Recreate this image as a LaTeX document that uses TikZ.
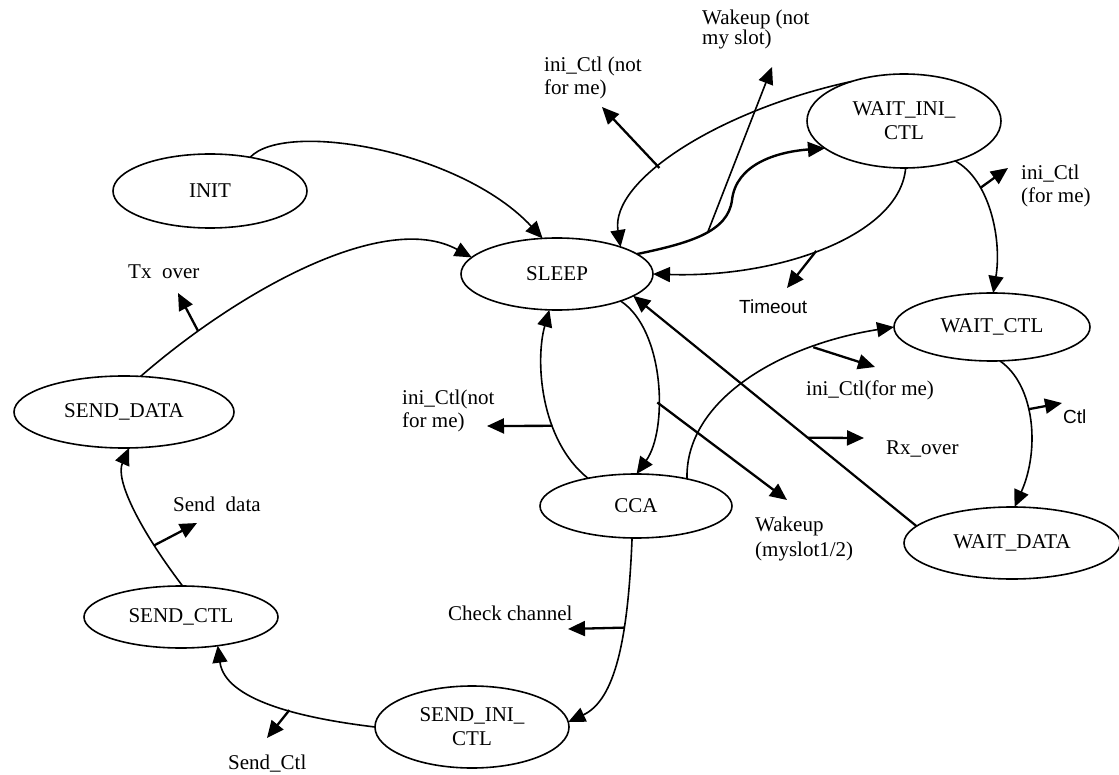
\documentclass[tikz,border=0pt]{standalone}
\usepackage{fontspec}
\setmainfont{Liberation Serif}
\newfontfamily\arialfont{Liberation Sans}
\usetikzlibrary{shapes.geometric,arrows.meta,calc}
\newcommand\tightlines{\lineskiplimit=-20pt\relax}

\begin{document}
\begin{tikzpicture}[x=1pt,y=-1pt,
  state/.style={ellipse,draw,line width=1.6pt,inner sep=0pt,outer sep=0pt,
    align=center,font=\fontsize{21}{24}\selectfont},
  trans/.style={line width=1.6pt,-{Triangle[length=17pt,width=15pt]}},
  heavy/.style={trans,line width=2.4pt},
  tag/.style={line width=2.3pt,-{Triangle[length=17pt,width=15pt]}},
  lbl/.style={anchor=north west,inner sep=0pt,align=left,
    font=\fontsize{21}{23}\selectfont},
  slbl/.style={anchor=north west,inner sep=0pt,font=\arialfont\fontsize{19}{22}\selectfont},
]
\useasboundingbox (0,0) rectangle (1119,775);

% states
\node[state,minimum width=194pt,minimum height=74pt] (init)     at (210,191)  {INIT};
\node[state,minimum width=192pt,minimum height=72pt] (sleep)    at (557,274)  {SLEEP};
\node[state,minimum width=194pt,minimum height=94pt] (waitini)  at (904,121)  {WAIT\_INI\_\\CTL};
\node[state,minimum width=196pt,minimum height=68pt] (waitctl)  at (992,327)  {WAIT\_CTL};
\node[state,minimum width=192pt,minimum height=64pt] (cca)      at (636,506)  {CCA};
\node[state,minimum width=216pt,minimum height=72pt] (waitdata) at (1012,543) {WAIT\_DATA};
\node[state,minimum width=220pt,minimum height=72pt] (senddata) at (124,412)  {SEND\_DATA};
\node[state,minimum width=194pt,minimum height=62pt] (sendctl)  at (181,617)  {SEND\_CTL};
\node[state,minimum width=194pt,minimum height=82pt] (sendini)  at (472,727)  {SEND\_INI\_\\CTL};

% transitions
\draw[trans] (init.40) .. controls (285,120) and (460,150) .. (sleep.112);
\draw[trans] (senddata.65) .. controls (240,290) and (385,210) .. (sleep.169)
  coordinate[pos=0.18] (txo);
\draw[heavy] (sleep.14) .. controls (690,243) and (728,232) .. (732,200)
  coordinate[pos=0.55] (wk1)
  .. controls (736,165) and (775,152) .. (waitini.199);
\draw[trans] (waitini.143) .. controls (720,110) and (610,180) .. (sleep.23)
  coordinate[pos=0.6] (inn1);
\draw[trans] (waitini.272) .. controls (900,235) and (780,278) .. (sleep.east)
  coordinate[pos=0.53] (tmo);
\draw[trans] (waitini.322) .. controls (990,180) and (1002,240) .. (waitctl.88)
  coordinate[pos=0.3] (ifm1);
\draw[trans] (waitctl.283) .. controls (1035,385) and (1040,450) .. (waitdata.86)
  coordinate[pos=0.42] (ctl);
\draw[trans,line width=2.2pt] (waitdata.170) -- (sleep.344) coordinate[pos=0.384] (rxo);
\draw[trans] (cca.28) .. controls (685,400) and (780,345) .. (waitctl.west)
  coordinate[pos=0.75] (ifm2);
\draw[trans] (sleep.337) .. controls (665,330) and (668,430) .. (cca.89)
  coordinate[pos=0.6] (wkm);
\draw[trans] (cca.150) .. controls (540,440) and (535,360) .. (sleep.258)
  coordinate[pos=0.35] (inn2);
\draw[trans] (cca.263) .. controls (628,640) and (615,700) .. (sendini.3)
  coordinate[pos=0.34] (chk);
\draw[trans] (sendini.west) .. controls (300,718) and (225,700) .. (sendctl.322)
  coordinate[pos=0.4] (sct);
\draw[trans] (sendctl.87) .. controls (140,530) and (115,480) .. (senddata.278)
  coordinate[pos=0.25] (sdt);

% event markers
\coordinate (txoTip)  at (178,293);
\coordinate (wk1Tip)  at (772,67);
\coordinate (inn1Tip) at (602,107);
\coordinate (tmoTip)  at (787,288);
\coordinate (ifm1Tip) at (1008,168);
\coordinate (ctlTip)  at (1062,403);
\coordinate (rxoTip)  at (864,438);
\coordinate (ifm2Tip) at (875,367);
\coordinate (inn2Tip) at (487,426);
\coordinate (wkmTip)  at (787,500);
\coordinate (chkTip)  at (568,629);
\coordinate (sctTip)  at (267,738);
\coordinate (sdtTip)  at (197,523);

\draw[tag] (txo)  -- (txoTip);
\draw[trans] (wk1)  -- (wk1Tip);
\draw[tag] (inn1) -- (inn1Tip);
\draw[tag] (tmo)  -- (tmoTip);
\draw[tag] (ifm1) -- (ifm1Tip);
\draw[tag] (ctl)  -- (ctlTip);
\draw[tag] (rxo)  -- (rxoTip);
\draw[tag] (ifm2) -- (ifm2Tip);
\draw[tag] (inn2) -- (inn2Tip);
\draw[tag] (wkm)  -- (wkmTip);
\draw[tag] (chk)  -- (chkTip);
\draw[tag] (sct)  -- (sctTip);
\draw[tag] (sdt)  -- (sdtTip);

% event labels
\node[lbl,font=\fontsize{21}{20}\selectfont\tightlines] (lwk1) at (702,10) {Wakeup (not\\my slot)};
\node[lbl] (linn1) at (544,57)   {ini\_Ctl (not\\for me)};
\node[lbl] (ltxo)  at (128,265)  {Tx\ \ over};
\node[slbl] (ltmo) at (739,300)  {Timeout};
\node[lbl] (lifm1) at (1021,165) {ini\_Ctl\\(for me)};
\node[lbl] (lifm2) at (806,381)  {ini\_Ctl(for me)};
\node[slbl] (lctl) at (1063,410) {Ctl};
\node[lbl] (lrxo)  at (886,441)  {Rx\_over};
\node[lbl] (linn2) at (402,390)  {ini\_Ctl(not\\for me)};
\node[lbl,font=\fontsize{21}{25}\selectfont] (lwkm) at (755,517) {Wakeup\\(myslot1/2)};
\node[lbl] (lsdt)  at (173,497)  {Send\ \ data};
\node[lbl] (lchk)  at (448,606)  {Check channel};
\node[lbl] (lsct)  at (228,755)  {Send\_Ctl};
\end{tikzpicture}
\end{document}
